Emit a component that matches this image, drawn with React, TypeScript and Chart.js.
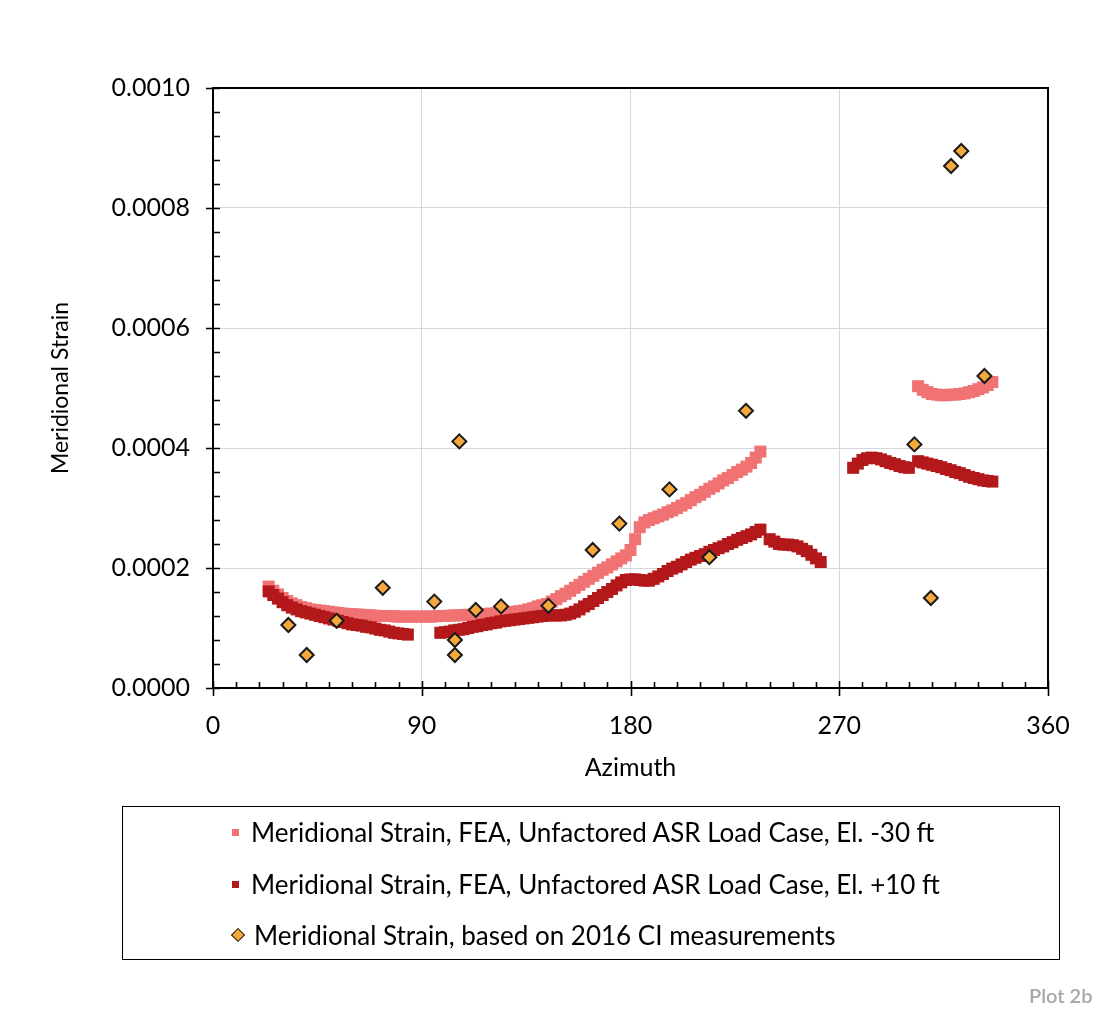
import React, { useEffect, useRef } from "react";
import { Chart, registerables } from "chart.js";

Chart.register(...registerables);

const W = 1114;
const H = 1009;
const FONT = "Lato, 'Open Sans', sans-serif";

// ---- data ----
const X_TICKS = [0, 90, 180, 270, 360];
const Y_TICKS = [0, 0.0002, 0.0004, 0.0006, 0.0008, 0.001];

// El. -30 ft (light)
const LIGHT_AZ = [
  24, 26, 28, 30, 32, 34, 36, 38, 40, 42, 44, 46, 48, 50, 52, 54, 56, 58,
  60, 62, 64, 66, 68, 70, 72, 74, 76, 78, 80, 82, 84, 86, 88, 90, 92, 94, 96, 98,
  100, 102, 104, 106, 108, 110, 112, 114, 116, 118, 120, 122, 124, 126, 128, 130, 132, 134, 136, 138,
  140, 142, 144, 146, 148, 150, 152, 154, 156, 158, 160, 162, 164, 166, 168, 170, 172, 174, 176, 178,
  180, 182, 184, 186, 188, 190, 192, 194, 196, 198, 200, 202, 204, 206, 208, 210, 212, 214, 216, 218,
  220, 222, 224, 226, 228, 230, 232, 234, 236,
  304, 306, 308, 310, 312, 314, 316, 318, 320, 322, 324, 326, 328, 330, 332, 334, 336,
];
const LIGHT_VAL = [
  1.69e-4, 1.62e-4, 1.56e-4, 1.5e-4, 1.45e-4, 1.41e-4, 1.38e-4, 1.35e-4, 1.33e-4, 1.31e-4, 1.3e-4, 1.29e-4, 1.28e-4, 1.27e-4, 1.26e-4, 1.25e-4, 1.24e-4, 1.235e-4,
  1.23e-4, 1.225e-4, 1.22e-4, 1.215e-4, 1.21e-4, 1.205e-4, 1.2e-4, 1.2e-4, 1.2e-4, 1.195e-4, 1.19e-4, 1.19e-4, 1.19e-4, 1.19e-4, 1.19e-4, 1.19e-4, 1.19e-4, 1.19e-4, 1.195e-4, 1.2e-4,
  1.2e-4, 1.205e-4, 1.21e-4, 1.21e-4, 1.215e-4, 1.22e-4, 1.22e-4, 1.225e-4, 1.23e-4, 1.235e-4, 1.24e-4, 1.245e-4, 1.25e-4, 1.26e-4, 1.265e-4, 1.27e-4, 1.28e-4, 1.29e-4, 1.31e-4, 1.33e-4,
  1.36e-4, 1.38e-4, 1.4e-4, 1.44e-4, 1.48e-4, 1.53e-4, 1.57e-4, 1.62e-4, 1.67e-4, 1.72e-4, 1.77e-4, 1.82e-4, 1.87e-4, 1.92e-4, 1.97e-4, 2.01e-4, 2.06e-4, 2.11e-4, 2.16e-4, 2.21e-4,
  2.3e-4, 2.48e-4, 2.68e-4, 2.76e-4, 2.8e-4, 2.83e-4, 2.86e-4, 2.89e-4, 2.93e-4, 2.96e-4, 3.0e-4, 3.04e-4, 3.08e-4, 3.13e-4, 3.18e-4, 3.22e-4, 3.27e-4, 3.32e-4, 3.36e-4, 3.41e-4,
  3.46e-4, 3.5e-4, 3.55e-4, 3.6e-4, 3.64e-4, 3.69e-4, 3.75e-4, 3.84e-4, 3.94e-4,
  5.03e-4, 4.97e-4, 4.93e-4, 4.9e-4, 4.89e-4, 4.88e-4, 4.88e-4, 4.89e-4, 4.89e-4, 4.9e-4, 4.91e-4, 4.93e-4, 4.95e-4, 4.98e-4, 5.01e-4, 5.05e-4, 5.1e-4,
];

// El. +10 ft (dark)
const DARK_AZ = [
  24, 26, 28, 30, 32, 34, 36, 38, 40, 42, 44, 46, 48, 50, 52, 54, 56, 58,
  60, 62, 64, 66, 68, 70, 72, 74, 76, 78, 80, 82, 84,
  98, 100, 102, 104, 106, 108, 110, 112, 114, 116, 118, 120, 122, 124, 126, 128, 130, 132, 134, 136, 138,
  140, 142, 144, 146, 148, 150, 152, 154, 156, 158, 160, 162, 164, 166, 168, 170, 172, 174, 176, 178,
  180, 182, 184, 186, 188, 190, 192, 194, 196, 198, 200, 202, 204, 206, 208, 210, 212, 214, 216, 218,
  220, 222, 224, 226, 228, 230, 232, 234, 236,
  240, 242, 244, 246, 248, 250, 252, 254, 256, 258, 260, 262,
  276, 278, 280, 282, 284, 286, 288, 290, 292, 294, 296, 298, 300,
  304, 306, 308, 310, 312, 314, 316, 318, 320, 322, 324, 326, 328, 330, 332, 334, 336,
];
const DARK_VAL = [
  1.61e-4, 1.55e-4, 1.49e-4, 1.43e-4, 1.38e-4, 1.34e-4, 1.31e-4, 1.28e-4, 1.26e-4, 1.24e-4, 1.22e-4, 1.2e-4, 1.18e-4, 1.16e-4, 1.14e-4, 1.12e-4, 1.1e-4, 1.08e-4,
  1.06e-4, 1.05e-4, 1.04e-4, 1.02e-4, 1.01e-4, 0.99e-4, 0.97e-4, 0.96e-4, 0.94e-4, 0.92e-4, 0.91e-4, 0.9e-4, 0.89e-4,
  0.92e-4, 0.93e-4, 0.94e-4, 0.96e-4, 0.97e-4, 0.98e-4, 1.0e-4, 1.02e-4, 1.03e-4, 1.05e-4, 1.06e-4, 1.08e-4, 1.09e-4, 1.11e-4, 1.12e-4, 1.13e-4, 1.14e-4, 1.15e-4, 1.16e-4, 1.17e-4, 1.18e-4,
  1.19e-4, 1.2e-4, 1.21e-4, 1.21e-4, 1.21e-4, 1.21e-4, 1.22e-4, 1.24e-4, 1.27e-4, 1.31e-4, 1.36e-4, 1.4e-4, 1.45e-4, 1.5e-4, 1.55e-4, 1.6e-4, 1.65e-4, 1.71e-4, 1.76e-4, 1.8e-4,
  1.81e-4, 1.81e-4, 1.8e-4, 1.79e-4, 1.79e-4, 1.82e-4, 1.86e-4, 1.9e-4, 1.95e-4, 1.99e-4, 2.02e-4, 2.06e-4, 2.1e-4, 2.14e-4, 2.17e-4, 2.2e-4, 2.23e-4, 2.27e-4, 2.3e-4, 2.33e-4,
  2.36e-4, 2.4e-4, 2.43e-4, 2.47e-4, 2.5e-4, 2.53e-4, 2.56e-4, 2.6e-4, 2.64e-4,
  2.48e-4, 2.44e-4, 2.4e-4, 2.39e-4, 2.39e-4, 2.38e-4, 2.36e-4, 2.32e-4, 2.28e-4, 2.22e-4, 2.16e-4, 2.1e-4,
  3.67e-4, 3.74e-4, 3.8e-4, 3.83e-4, 3.84e-4, 3.83e-4, 3.81e-4, 3.78e-4, 3.75e-4, 3.73e-4, 3.7e-4, 3.68e-4, 3.67e-4,
  3.78e-4, 3.76e-4, 3.74e-4, 3.72e-4, 3.7e-4, 3.68e-4, 3.65e-4, 3.63e-4, 3.6e-4, 3.58e-4, 3.55e-4, 3.52e-4, 3.5e-4, 3.48e-4, 3.46e-4, 3.45e-4, 3.44e-4,
];

// 2016 CI measurements
const CI_AZ = [32.5, 40.4, 53.3, 73.2, 95.4, 104.3, 104.3, 106.2, 113.3, 124.2, 144.6, 163.7, 175.2, 196.8, 214.0, 229.8, 302.4, 309.5, 318.2, 322.6, 332.6];
const CI_VAL = [1.05e-4, 0.55e-4, 1.12e-4, 1.67e-4, 1.44e-4, 0.8e-4, 0.55e-4, 4.11e-4, 1.3e-4, 1.36e-4, 1.37e-4, 2.3e-4, 2.74e-4, 3.31e-4, 2.18e-4, 4.62e-4, 4.06e-4, 1.5e-4, 8.7e-4, 8.95e-4, 5.2e-4];

const LABELS = [
  "Meridional Strain, FEA, Unfactored ASR Load Case, El. -30 ft",
  "Meridional Strain, FEA, Unfactored ASR Load Case, El. +10 ft",
  "Meridional Strain, based on 2016 CI measurements",
];

const LIGHT = "#f07272";
const DARK = "#b3181b";
const ORANGE = "#f5a93c";

const toPts = (xs: number[], ys: number[]) => xs.map((x, i) => ({ x, y: ys[i] }));

const framePlugin = {
  id: "frame",
  beforeDatasetsDraw(chart: any) {
    const { ctx, chartArea, scales } = chart;
    const { left, right, top, bottom } = chartArea;
    const x = scales.x;
    const y = scales.y;
    ctx.save();
    ctx.strokeStyle = "#000";
    ctx.lineWidth = 2;
    ctx.strokeRect(left, top, right - left, bottom - top);
    ctx.lineWidth = 1.6;
    ctx.beginPath();
    for (let v = 0; v <= 360; v += 10) {
      const px = Math.round(x.getPixelForValue(v)) + 0.5;
      if (v % 90 === 0) {
        ctx.moveTo(px, bottom - 7);
        ctx.lineTo(px, bottom + 8);
      } else {
        ctx.moveTo(px, bottom);
        ctx.lineTo(px, bottom - 6);
      }
    }
    for (let i = 0; i <= 25; i++) {
      const v = i * 0.00004;
      const py = Math.round(y.getPixelForValue(v)) + 0.5;
      if (i % 5 === 0) {
        ctx.moveTo(left - 7, py);
        ctx.lineTo(left + 7, py);
      } else {
        ctx.moveTo(left, py);
        ctx.lineTo(left + 7, py);
      }
    }
    ctx.stroke();
    ctx.restore();
  },
};

export default function App() {
  const ref = useRef<HTMLCanvasElement>(null);
  useEffect(() => {
    const chart = new Chart(ref.current as HTMLCanvasElement, {
      type: "scatter",
      data: {
        datasets: [
          {
            label: LABELS[2],
            data: toPts(CI_AZ, CI_VAL),
            pointStyle: "rectRot",
            pointRadius: 7,
            backgroundColor: ORANGE,
            borderColor: "#1a1a1a",
            borderWidth: 2,
            order: 0,
          },
          {
            label: LABELS[1],
            data: toPts(DARK_AZ, DARK_VAL),
            pointStyle: "rect",
            pointRadius: 8.5,
            backgroundColor: DARK,
            borderWidth: 0,
            order: 1,
          },
          {
            label: LABELS[0],
            data: toPts(LIGHT_AZ, LIGHT_VAL),
            pointStyle: "rect",
            pointRadius: 8.5,
            backgroundColor: LIGHT,
            borderWidth: 0,
            order: 2,
          },
        ],
      },
      options: {
        responsive: false,
        animation: false,
        devicePixelRatio: 1,
        layout: { padding: { left: 40, top: 88, right: 66, bottom: 221 } },
        plugins: { legend: { display: false }, tooltip: { enabled: false } },
        scales: {
          x: {
            type: "linear",
            min: 0,
            max: 360,
            afterBuildTicks: (s: any) => {
              s.ticks = X_TICKS.map((v) => ({ value: v }));
            },
            afterFit: (s: any) => {
              s.height = 100;
            },
            ticks: { color: "#000", font: { family: FONT, size: 25 }, padding: 23, maxRotation: 0 },
            grid: { color: "#d6d6de", lineWidth: 1, drawTicks: false },
            border: { display: false },
            title: {
              display: true,
              text: "Azimuth",
              color: "#000",
              font: { family: FONT, size: 25 },
              padding: { top: 0, bottom: 5 },
            },
          },
          y: {
            type: "linear",
            min: 0,
            max: 0.001,
            afterBuildTicks: (s: any) => {
              s.ticks = Y_TICKS.map((v) => ({ value: v }));
            },
            afterFit: (s: any) => {
              s.width = 173;
            },
            ticks: {
              color: "#000",
              font: { family: FONT, size: 25 },
              padding: 23,
              callback: (v: any) => Number(v).toFixed(4),
            },
            grid: { color: "#d6d6de", lineWidth: 1, drawTicks: false },
            border: { display: false },
            title: {
              display: true,
              text: "Meridional Strain",
              color: "#000",
              font: { family: FONT, size: 23 },
              padding: { top: 7, bottom: 0 },
            },
          },
        },
      },
      plugins: [framePlugin],
    });
    return () => chart.destroy();
  }, []);

  const rowTops = [812, 864, 915];
  return (
    <div style={{ position: "absolute", left: 0, top: 0, width: W, height: H, background: "#fff", overflow: "hidden" }}>
      <canvas ref={ref} width={W} height={H} style={{ position: "absolute", left: 0, top: 0, width: W, height: H }} />
      <div
        style={{
          position: "absolute",
          left: 122,
          top: 806,
          width: 938,
          height: 154,
          border: "1.5px solid #000",
          boxSizing: "border-box",
        }}
      />
      {LABELS.map((t, i) => (
        <div
          key={i}
          style={{
            position: "absolute",
            left: 232,
            top: rowTops[i],
            height: 40,
            display: "flex",
            alignItems: "center",
            fontFamily: FONT,
            fontSize: 26,
            color: "#000",
            whiteSpace: "nowrap",
          }}
        >
          {i < 2 ? (
            <span
              style={{
                display: "inline-block",
                width: 7,
                height: 7,
                background: i === 0 ? LIGHT : DARK,
                marginRight: 12,
              }}
            />
          ) : (
            <span
              style={{
                display: "inline-block",
                width: 8,
                height: 8,
                background: ORANGE,
                border: "1.5px solid #1a1a1a",
                transform: "rotate(45deg)",
                marginLeft: 1,
                marginRight: 11,
              }}
            />
          )}
          <span>{t}</span>
        </div>
      ))}
      <div
        style={{
          position: "absolute",
          left: 1029,
          top: 983,
          fontFamily: FONT,
          fontSize: 20,
          fontWeight: 600,
          color: "#a8a8a8",
          whiteSpace: "nowrap",
        }}
      >
        Plot 2b
      </div>
    </div>
  );
}
